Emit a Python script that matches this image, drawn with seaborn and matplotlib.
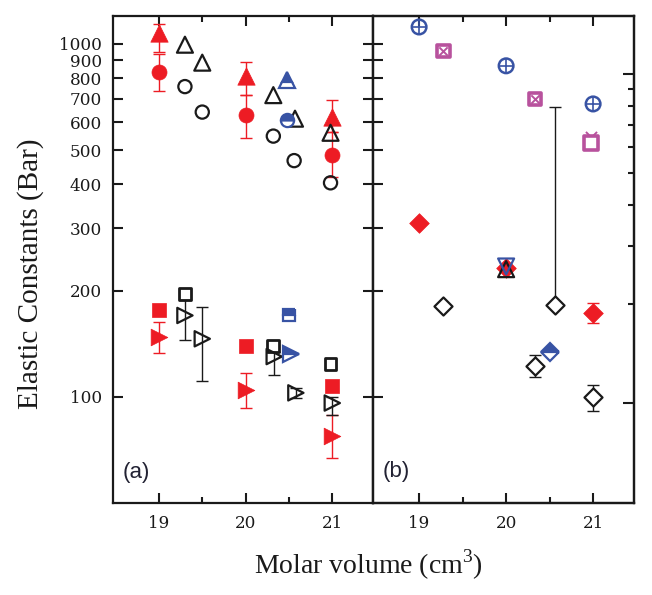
import numpy as np
import matplotlib
matplotlib.use('Agg')
import matplotlib.pyplot as plt
import matplotlib.ticker as mticker
import seaborn as sns

# ---- panel (a) ----
a_red_tri_x = [19, 20, 21]
a_red_tri_y = [1075, 811, 621]
a_red_tri_lo = [948, 716, 563]
a_red_tri_hi = [1140, 889, 693]

a_red_circ_x = [19, 20, 21]
a_red_circ_y = [833, 630, 485]
a_red_circ_lo = [736, 542, 420]
a_red_circ_hi = [937, 716, 563]

a_open_tri_x = [19.3, 19.5, 20.32, 20.57, 20.98]
a_open_tri_y = [995, 885, 716, 614, 560]
a_open_circ_x = [19.3, 19.5, 20.32, 20.56, 20.98]
a_open_circ_y = [757, 641, 548, 467, 404]

a_blue_tri_x = [20.48]
a_blue_tri_y = [791]
a_blue_circ_x = [20.48]
a_blue_circ_y = [610]

a_red_sq_x = [19, 20, 21]
a_red_sq_y = [176, 139, 107.5]
a_red_rt_x = [19, 20, 21]
a_red_rt_y = [148, 104.7, 77.6]
a_red_rt_lo = [133, 93, 67]
a_red_rt_hi = [163, 117, 89]

a_open_sq_x = [19.3, 20.32, 20.98]
a_open_sq_y = [196, 139, 124]
a_open_rt_x = [19.3, 19.5, 20.33, 20.58, 21.0]
a_open_rt_y = [170, 146, 130, 102.6, 96]
a_open_rt_lo = [145, 111, 115, 99, 89]
a_open_rt_hi = [188, 180, 134, 106, 100]

a_blue_sq_x = [20.5]
a_blue_sq_y = [170]
a_blue_rt_x = [20.52]
a_blue_rt_y = [132]

# ---- panel (b) ----
b_oplus_x = [19, 20, 21]
b_oplus_y = [1117, 867, 676]
b_sqx_x = [19.28, 20.33]
b_sqx_y = [955, 698]
b_sq21_x = [20.97]
b_sq21_y = [525]
b_x21_x = [20.97]
b_x21_y = [545]

b_red_dia_x = [19, 20, 21]
b_red_dia_y = [311, 232, 173]
b_red_dia_lo = [311, 232, 162]
b_red_dia_hi = [311, 232, 185]

b_open_dia_x = [19.28, 20.33, 20.56, 21.0]
b_open_dia_y = [181, 122.5, 182, 100]
b_open_dia_lo = [181, 114, 182, 91]
b_open_dia_hi = [181, 131, 664, 108]

b_blue_v_x = [20]
b_blue_v_y = [234]
b_black_up_x = [20]
b_black_up_y = [230]
b_blue_dia_x = [20.5]
b_blue_dia_y = [134]

yticks_left = [100, 200, 300, 400, 500, 600, 700, 800, 900, 1000]

RED = '#ed1c24'
BLK = '#1a1a1a'
BLUE = '#3853a4'
MAG = '#b8529d'

sns.set_style('ticks')
plt.rcParams['font.family'] = ['DejaVu Serif']
plt.rcParams['mathtext.fontset'] = 'custom'
plt.rcParams['mathtext.rm'] = 'Liberation Serif'


def pts(ax, x, y, marker, ms, face, edge, lw=1.6, z=3):
    sns.scatterplot(x=x, y=y, marker=marker, s=ms ** 2, facecolor=face,
                    edgecolor=edge, linewidth=lw, ax=ax, legend=False,
                    zorder=z)


def err(ax, x, y, lo, hi, color):
    x = np.array(x); y = np.array(y); lo = np.array(lo); hi = np.array(hi)
    keep = (hi > y) | (lo < y)
    ax.errorbar(x[keep], y[keep], yerr=[y[keep] - lo[keep], hi[keep] - y[keep]],
                fmt='none', ecolor=color, elinewidth=1.0, capsize=4.5,
                capthick=1.0, zorder=2)


def half(ax, x, y, marker, ms, color):
    ax.plot(x, y, ls='none', marker=marker, ms=ms, fillstyle='top',
            color=color, markerfacecoloralt='white', mec=color, mew=1.6,
            zorder=4)


fig = plt.figure(figsize=(6.52, 5.95), dpi=100)
ax_a = fig.add_axes([113 / 652, 1 - 503 / 595, 260 / 652, 487 / 595])
ax_b = fig.add_axes([373 / 652, 1 - 503 / 595, 261 / 652, 487 / 595])

# panel (a)
err(ax_a, a_red_tri_x, a_red_tri_y, a_red_tri_lo, a_red_tri_hi, RED)
err(ax_a, a_red_circ_x, a_red_circ_y, a_red_circ_lo, a_red_circ_hi, RED)
err(ax_a, a_red_rt_x, a_red_rt_y, a_red_rt_lo, a_red_rt_hi, RED)
err(ax_a, a_open_rt_x, a_open_rt_y, a_open_rt_lo, a_open_rt_hi, BLK)

pts(ax_a, a_red_tri_x, a_red_tri_y, '^', 12.5, RED, RED, 0.5)
pts(ax_a, a_red_circ_x, a_red_circ_y, 'o', 10.8, RED, RED, 0.5)
pts(ax_a, a_open_tri_x, a_open_tri_y, '^', 11.5, 'none', BLK)
pts(ax_a, a_open_circ_x, a_open_circ_y, 'o', 9.5, 'none', BLK)
pts(ax_a, a_red_sq_x, a_red_sq_y, 's', 10, RED, RED, 0.5)
pts(ax_a, a_red_rt_x, a_red_rt_y, '>', 12, RED, RED, 0.5)
pts(ax_a, a_open_sq_x, a_open_sq_y, 's', 8.5, 'none', BLK, 2.0)
pts(ax_a, a_open_rt_x, a_open_rt_y, '>', 11, 'none', BLK)
half(ax_a, a_blue_tri_x, a_blue_tri_y, '^', 11.5, BLUE)
half(ax_a, a_blue_circ_x, a_blue_circ_y, 'o', 9.5, BLUE)
half(ax_a, a_blue_sq_x, a_blue_sq_y, 's', 9, BLUE)
half(ax_a, a_blue_rt_x, a_blue_rt_y, '>', 11, BLUE)

# panel (b)
err(ax_b, b_red_dia_x, b_red_dia_y, b_red_dia_lo, b_red_dia_hi, RED)
err(ax_b, b_open_dia_x, b_open_dia_y, b_open_dia_lo, b_open_dia_hi, BLK)
pts(ax_b, b_oplus_x, b_oplus_y, 'o', 10.5, 'none', BLUE, 1.8)
pts(ax_b, b_oplus_x, b_oplus_y, '+', 10.5, BLUE, BLUE, 1.2)
pts(ax_b, b_sqx_x, b_sqx_y, 's', 9, 'none', MAG, 2.6)
pts(ax_b, b_sqx_x, b_sqx_y, 'x', 6, MAG, MAG, 1.4)
pts(ax_b, b_x21_x, b_x21_y, 'x', 8, MAG, MAG, 1.4, z=3)
pts(ax_b, b_sq21_x, b_sq21_y, 's', 9.5, 'white', MAG, 2.6, z=4)
pts(ax_b, b_red_dia_x, b_red_dia_y, 'D', 10, RED, RED, 0.5)
pts(ax_b, b_open_dia_x, b_open_dia_y, 'D', 9.2, 'white', BLK)
pts(ax_b, b_black_up_x, b_black_up_y, '^', 11.5, 'none', BLK)
pts(ax_b, b_blue_v_x, b_blue_v_y, 'v', 11.5, 'none', BLUE)
half(ax_b, b_blue_dia_x, b_blue_dia_y, 'D', 9.2, BLUE)

for ax in (ax_a, ax_b):
    ax.set_yscale('log')
    ax.set_xlim(18.47, 21.47)
    ax.set_ylim(50, 1200)
    ax.yaxis.set_major_locator(mticker.FixedLocator(yticks_left))
    ax.yaxis.set_minor_locator(mticker.NullLocator())
    ax.yaxis.set_major_formatter(mticker.FuncFormatter(lambda v, p: f'{v:g}'))
    ax.xaxis.set_major_locator(mticker.FixedLocator([19, 20, 21]))
    ax.xaxis.set_minor_locator(mticker.FixedLocator([19.5, 20.5]))
    ax.xaxis.set_major_formatter(mticker.FormatStrFormatter('%d'))
    ax.tick_params(axis='both', which='major', direction='in', length=7,
                   width=1.5, color=BLK, labelsize=12.2, labelcolor=BLK,
                   top=True, pad=8)
    ax.tick_params(axis='x', which='minor', direction='in', length=4.5,
                   width=1.5, color=BLK, top=True)
    ax.tick_params(axis='x', which='major', pad=9)
    for s in ax.spines.values():
        s.set_linewidth(1.6)
        s.set_color(BLK)
    ax.set_xlabel('')
    ax.set_ylabel('')

ax_a.tick_params(axis='y', right=True, left=True)
ax_b.tick_params(axis='y', left=True, right=False, labelleft=False)

ax_b2 = ax_b.twinx()
ax_b2.set_yscale('log')
ax_b2.set_ylim(49.5, 1500)
ax_b2.yaxis.set_major_locator(mticker.FixedLocator([100, 1000]))
ax_b2.yaxis.set_minor_locator(mticker.FixedLocator([200, 300, 400, 500, 600, 700, 800, 900]))
ax_b2.yaxis.set_major_formatter(mticker.NullFormatter())
ax_b2.yaxis.set_minor_formatter(mticker.NullFormatter())
ax_b2.tick_params(axis='y', which='major', direction='in', length=8, width=1.5, color=BLK)
ax_b2.tick_params(axis='y', which='minor', direction='in', length=4.5, width=1.5, color=BLK)
for s in ax_b2.spines.values():
    s.set_linewidth(1.6)
    s.set_color(BLK)

ax_a.set_ylabel('Elastic Constants (Bar)', family='Liberation Serif',
                fontsize=21, color=BLK)
ax_a.yaxis.set_label_coords(-0.265, 0.47)
fig.text(368 / 652, 1 - 565 / 595, 'Molar volume (cm$^{\\mathrm{3}}$)',
         family='Liberation Serif', fontsize=20, color=BLK,
         ha='center', va='center')

ax_a.text(0.038, 0.062, '(a)', transform=ax_a.transAxes, family='Liberation Sans',
          fontsize=16, color='#222233', ha='left', va='center')
ax_b.text(0.038, 0.064, '(b)', transform=ax_b.transAxes, family='Liberation Sans',
          fontsize=16, color='#222233', ha='left', va='center')

fig.savefig('out.png', dpi=100, facecolor='white')
